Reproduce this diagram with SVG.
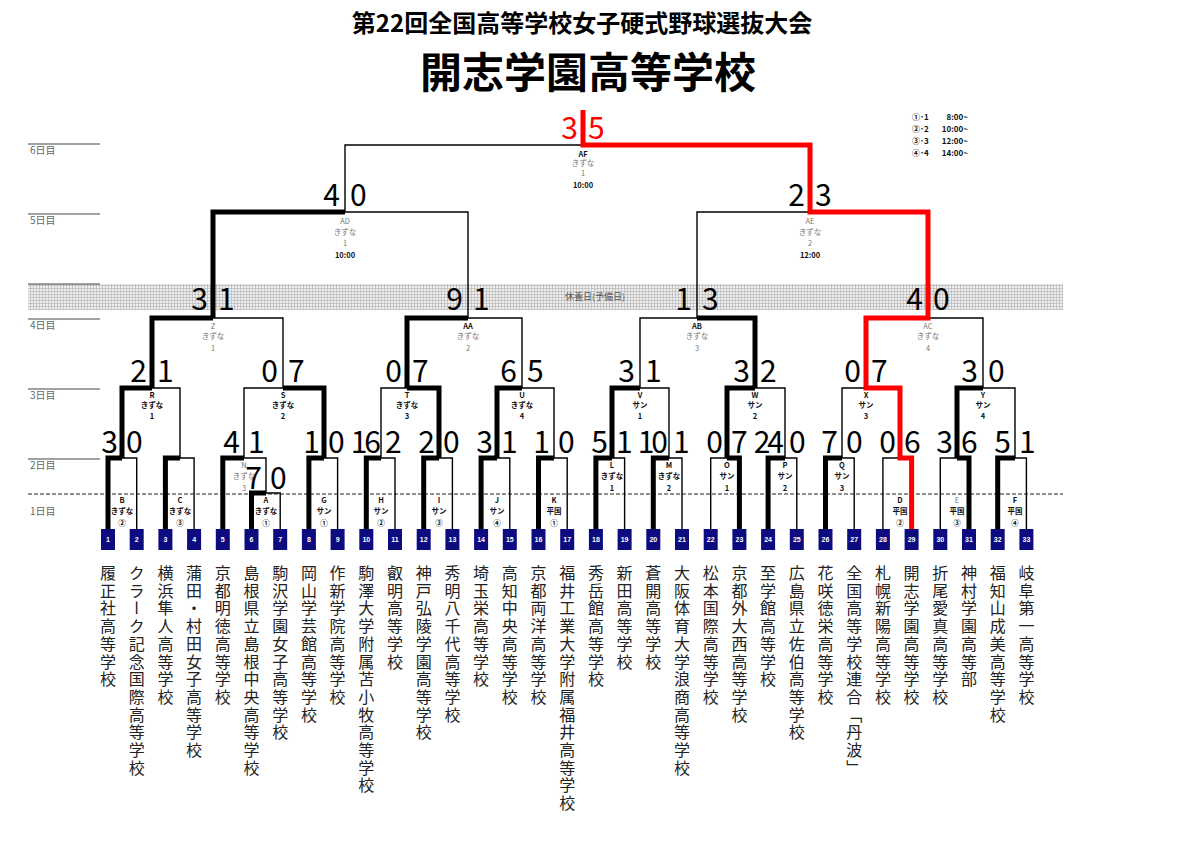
<svg xmlns="http://www.w3.org/2000/svg" width="1200" height="849" viewBox="0 0 1200 849">
<defs>
<pattern id="hatch" width="3" height="3" patternUnits="userSpaceOnUse">
<rect width="3" height="3" fill="#eeeeee"/>
<path d="M0,0.5 H3 M0.5,0 V3" stroke="#b8b8b8" stroke-width="0.7"/>
</pattern>
<style>
.jp{font-family:"Noto Sans CJK JP","Noto Sans CJK SC",sans-serif}
.thin{fill:none;stroke:#000;stroke-width:1.4}
.thick{fill:none;stroke:#000;stroke-width:5;stroke-linejoin:miter}
.red{fill:none;stroke:#ff0000;stroke-width:5;stroke-linejoin:miter}
.day{font-family:"Noto Sans CJK JP",sans-serif;font-size:10px;fill:#666}
.dayline{stroke:#444;stroke-width:1.2}
.sc{font-family:"Noto Sans CJK JP",sans-serif;font-size:30px;font-weight:400;fill:#000}
.scr{font-family:"Noto Sans CJK JP",sans-serif;font-size:30px;font-weight:400;fill:#ff0000}
.lb{font-family:"Noto Sans CJK JP",sans-serif;font-size:7.5px;font-weight:bold;fill:#111;text-anchor:middle}
.lg{font-family:"Noto Sans CJK JP",sans-serif;font-size:7.5px;fill:#777;text-anchor:middle}
.box{fill:#0c0c80}
.num{font-family:"Liberation Sans",sans-serif;font-size:7px;font-weight:bold;fill:#fff;text-anchor:middle}
.nm{font-family:"Noto Sans CJK JP",sans-serif;font-size:16px;fill:#222;writing-mode:vertical-rl;letter-spacing:1.7px}
.lgd{font-family:"Noto Sans CJK JP",sans-serif;font-size:8px;font-weight:bold;fill:#111}
</style>
</defs>
<rect width="1200" height="849" fill="#fff"/>

<g id="title">
<text x="582" y="32" class="jp" font-size="24" font-weight="bold" text-anchor="middle">第22回全国高等学校女子硬式野球選抜大会</text>
<text x="588" y="88" class="jp" font-size="42" font-weight="bold" text-anchor="middle">開志学園高等学校</text>
</g>

<g id="legend">
<text x="912" y="120" class="lgd">①･1</text><text x="968" y="120" class="lgd" text-anchor="end">8:00~</text>
<text x="912" y="132" class="lgd">②･2</text><text x="968" y="132" class="lgd" text-anchor="end">10:00~</text>
<text x="912" y="144" class="lgd">③･3</text><text x="968" y="144" class="lgd" text-anchor="end">12:00~</text>
<text x="912" y="156" class="lgd">④･4</text><text x="968" y="156" class="lgd" text-anchor="end">14:00~</text>
</g>

<g id="days">
<rect x="28" y="284" width="1035" height="26" fill="url(#hatch)"/>
<text x="595" y="300" class="jp" font-size="9" fill="#555" text-anchor="middle">休養日(予備日)</text>
<line x1="28" y1="144" x2="100" y2="144" class="dayline"/><text x="30" y="154" class="day">6日目</text>
<line x1="28" y1="214" x2="100" y2="214" class="dayline"/><text x="30" y="224" class="day">5日目</text>
<line x1="28" y1="284" x2="100" y2="284" class="dayline"/>
<line x1="28" y1="319" x2="100" y2="319" class="dayline"/><text x="30" y="329" class="day">4日目</text>
<line x1="28" y1="389" x2="100" y2="389" class="dayline"/><text x="30" y="399" class="day">3日目</text>
<line x1="28" y1="459" x2="100" y2="459" class="dayline"/><text x="30" y="469" class="day">2日目</text>
<line x1="28" y1="494" x2="1063" y2="494" stroke="#222" stroke-width="1.2" stroke-dasharray="4 2"/>
<text x="30" y="515" class="day">1日目</text>
</g>

<g id="connectors">
<path class="thin" d="M251.5,529 V493 H280.2 V529"/>
<path class="thin" d="M108,529 V458 H136.7 V529"/>
<path class="thin" d="M165.4,529 V458 H194.1 V529"/>
<path class="thin" d="M222.8,529 V458 H266 V493"/>
<path class="thin" d="M308.9,529 V458 H337.6 V529"/>
<path class="thin" d="M366.3,529 V458 H395 V529"/>
<path class="thin" d="M423.7,529 V458 H452.4 V529"/>
<path class="thin" d="M481.1,529 V458 H509.8 V529"/>
<path class="thin" d="M538.5,529 V458 H567.2 V529"/>
<path class="thin" d="M595.9,529 V458 H624.6 V529"/>
<path class="thin" d="M653.3,529 V458 H682 V529"/>
<path class="thin" d="M710.7,529 V458 H739.4 V529"/>
<path class="thin" d="M768.1,529 V458 H796.8 V529"/>
<path class="thin" d="M825.5,529 V458 H854.2 V529"/>
<path class="thin" d="M882.9,529 V458 H911.6 V529"/>
<path class="thin" d="M940.3,529 V458 H969 V529"/>
<path class="thin" d="M997.7,529 V458 H1026.4 V529"/>
<path class="thin" d="M122,458 V388 H180 V458"/>
<path class="thin" d="M244,458 V388 H324 V458"/>
<path class="thin" d="M381,458 V388 H439 V458"/>
<path class="thin" d="M497,458 V388 H554 V458"/>
<path class="thin" d="M612,458 V388 H669 V458"/>
<path class="thin" d="M727,458 V388 H785 V458"/>
<path class="thin" d="M842,458 V388 H900 V458"/>
<path class="thin" d="M957,458 V388 H1015 V458"/>
<path class="thin" d="M152,388 V318 H283 V388"/>
<path class="thin" d="M407,388 V318 H522 V388"/>
<path class="thin" d="M640,388 V318 H755 V388"/>
<path class="thin" d="M866,388 V318 H983 V388"/>
<path class="thin" d="M213,318 V212 H468 V318"/>
<path class="thin" d="M697,318 V212 H928 V318"/>
<path class="thin" d="M345,212 V145 H810 V212"/>

<path class="thick" d="M251.5,529 V493 H266"/>
<path class="thick" d="M108,529 V458 H122"/>
<path class="thick" d="M165.4,529 V458 H180"/>
<path class="thick" d="M222.8,529 V458 H244"/>
<path class="thick" d="M308.9,529 V458 H324"/>
<path class="thick" d="M366.3,529 V458 H381"/>
<path class="thick" d="M423.7,529 V458 H439"/>
<path class="thick" d="M481.1,529 V458 H497"/>
<path class="thick" d="M538.5,529 V458 H554"/>
<path class="thick" d="M595.9,529 V458 H612"/>
<path class="thick" d="M653.3,529 V458 H669"/>
<path class="thick" d="M739.4,529 V458 H727"/>
<path class="thick" d="M768.1,529 V458 H785"/>
<path class="thick" d="M825.5,529 V458 H842"/>
<path class="thick" d="M969,529 V458 H957"/>
<path class="thick" d="M997.7,529 V458 H1015"/>
<path class="thick" d="M122,458 V388 H152"/>
<path class="thick" d="M324,458 V388 H283"/>
<path class="thick" d="M439,458 V388 H407"/>
<path class="thick" d="M497,458 V388 H522"/>
<path class="thick" d="M612,458 V388 H640"/>
<path class="thick" d="M727,458 V388 H755"/>
<path class="thick" d="M957,458 V388 H983"/>
<path class="thick" d="M152,388 V318 H213"/>
<path class="thick" d="M407,388 V318 H468"/>
<path class="thick" d="M755,388 V318 H697"/>
<path class="thick" d="M213,318 V212 H345"/>
<path class="red" d="M911.6,529 V458 H900 V388 H866 V318 H928 V212 H810 V145 H583 V110"/>
</g>

<g id="match-AF"><text x="578" y="139" class="scr" text-anchor="end">3</text><text x="588" y="139" class="scr">5</text>
<text x="583" y="157" class="lb">AF</text><text x="583" y="166" class="lg">きずな</text><text x="583" y="176" class="lg">1</text><text x="583" y="188" class="lb">10:00</text></g>
<g id="match-AD"><text x="340" y="206" class="sc" text-anchor="end">4</text><text x="350" y="206" class="sc">0</text>
<text x="345" y="224" class="lg">AD</text><text x="345" y="235" class="lg">きずな</text><text x="345" y="246" class="lg">1</text><text x="345" y="258" class="lb">10:00</text></g>
<g id="match-AE"><text x="805" y="206" class="sc" text-anchor="end">2</text><text x="815" y="206" class="sc">3</text>
<text x="810" y="224" class="lg">AE</text><text x="810" y="235" class="lg">きずな</text><text x="810" y="246" class="lg">2</text><text x="810" y="258" class="lb">12:00</text></g>

<g id="match-Z"><text x="208" y="310" class="sc" text-anchor="end">3</text><text x="218" y="310" class="sc">1</text>
<text x="213" y="329" class="lg">Z</text><text x="213" y="339" class="lg">きずな</text><text x="213" y="351" class="lg">1</text></g>
<g id="match-AA"><text x="463" y="310" class="sc" text-anchor="end">9</text><text x="473" y="310" class="sc">1</text>
<text x="468" y="329" class="lb">AA</text><text x="468" y="339" class="lg">きずな</text><text x="468" y="351" class="lg">2</text></g>
<g id="match-AB"><text x="692" y="310" class="sc" text-anchor="end">1</text><text x="702" y="310" class="sc">3</text>
<text x="697" y="329" class="lb">AB</text><text x="697" y="339" class="lg">きずな</text><text x="697" y="351" class="lg">3</text></g>
<g id="match-AC"><text x="923" y="310" class="sc" text-anchor="end">4</text><text x="933" y="310" class="sc">0</text>
<text x="928" y="329" class="lg">AC</text><text x="928" y="339" class="lg">きずな</text><text x="928" y="351" class="lg">4</text></g>

<g id="match-R"><text x="147" y="382" class="sc" text-anchor="end">2</text><text x="157" y="382" class="sc">1</text>
<text x="152" y="398" class="lb">R</text><text x="152" y="408" class="lb">きずな</text><text x="152" y="419" class="lb">1</text></g>
<g id="match-S"><text x="278" y="382" class="sc" text-anchor="end">0</text><text x="288" y="382" class="sc">7</text>
<text x="283" y="398" class="lb">S</text><text x="283" y="408" class="lb">きずな</text><text x="283" y="419" class="lb">2</text></g>
<g id="match-T"><text x="402" y="382" class="sc" text-anchor="end">0</text><text x="412" y="382" class="sc">7</text>
<text x="407" y="398" class="lb">T</text><text x="407" y="408" class="lb">きずな</text><text x="407" y="419" class="lb">3</text></g>
<g id="match-U"><text x="517" y="382" class="sc" text-anchor="end">6</text><text x="527" y="382" class="sc">5</text>
<text x="522" y="398" class="lb">U</text><text x="522" y="408" class="lb">きずな</text><text x="522" y="419" class="lb">4</text></g>
<g id="match-V"><text x="635" y="382" class="sc" text-anchor="end">3</text><text x="645" y="382" class="sc">1</text>
<text x="640" y="398" class="lb">V</text><text x="640" y="408" class="lb">サン</text><text x="640" y="419" class="lb">1</text></g>
<g id="match-W"><text x="750" y="382" class="sc" text-anchor="end">3</text><text x="760" y="382" class="sc">2</text>
<text x="755" y="398" class="lb">W</text><text x="755" y="408" class="lb">サン</text><text x="755" y="419" class="lb">2</text></g>
<g id="match-X"><text x="861" y="382" class="sc" text-anchor="end">0</text><text x="871" y="382" class="sc">7</text>
<text x="866" y="398" class="lb">X</text><text x="866" y="408" class="lb">サン</text><text x="866" y="419" class="lb">3</text></g>
<g id="match-Y"><text x="978" y="382" class="sc" text-anchor="end">3</text><text x="988" y="382" class="sc">0</text>
<text x="983" y="398" class="lb">Y</text><text x="983" y="408" class="lb">サン</text><text x="983" y="419" class="lb">4</text></g>

<g id="match-B"><text x="118" y="453" class="sc" text-anchor="end">3</text><text x="126" y="453" class="sc">0</text>
<text x="122" y="503" class="lb">B</text><text x="122" y="514" class="lb">きずな</text><text x="122" y="526" class="lb">②</text></g>
<g id="match-C"><text x="180" y="503" class="lb">C</text><text x="180" y="514" class="lb">きずな</text><text x="180" y="526" class="lb">③</text></g>
<g id="match-N"><text x="240" y="453" class="sc" text-anchor="end">4</text><text x="248" y="453" class="sc">1</text>
<text x="244" y="468" class="lg">N</text><text x="244" y="479" class="lg">きずな</text><text x="244" y="491" class="lg">3</text></g>
<g id="match-A"><text x="262" y="489" class="sc" text-anchor="end">7</text><text x="270" y="489" class="sc">0</text>
<text x="266" y="503" class="lb">A</text><text x="266" y="514" class="lb">きずな</text><text x="266" y="526" class="lb">①</text></g>
<g id="match-G"><text x="320" y="453" class="sc" text-anchor="end">1</text><text x="328" y="453" class="sc">0</text>
<text x="324" y="503" class="lb">G</text><text x="324" y="514" class="lb">サン</text><text x="324" y="526" class="lb">①</text></g>
<g id="match-H"><text x="378" y="453" class="sc" text-anchor="end" letter-spacing="-3">16</text><text x="385" y="453" class="sc">2</text>
<text x="381" y="503" class="lb">H</text><text x="381" y="514" class="lb">サン</text><text x="381" y="526" class="lb">②</text></g>
<g id="match-I"><text x="435" y="453" class="sc" text-anchor="end">2</text><text x="443" y="453" class="sc">0</text>
<text x="439" y="503" class="lb">I</text><text x="439" y="514" class="lb">サン</text><text x="439" y="526" class="lb">③</text></g>
<g id="match-J"><text x="493" y="453" class="sc" text-anchor="end">3</text><text x="501" y="453" class="sc">1</text>
<text x="497" y="503" class="lb">J</text><text x="497" y="514" class="lb">サン</text><text x="497" y="526" class="lb">④</text></g>
<g id="match-K"><text x="550" y="453" class="sc" text-anchor="end">1</text><text x="558" y="453" class="sc">0</text>
<text x="554" y="503" class="lb">K</text><text x="554" y="514" class="lb">平国</text><text x="554" y="526" class="lb">①</text></g>
<g id="match-L"><text x="608" y="453" class="sc" text-anchor="end">5</text><text x="616" y="453" class="sc">1</text>
<text x="612" y="468" class="lb">L</text><text x="612" y="479" class="lb">きずな</text><text x="612" y="491" class="lb">1</text></g>
<g id="match-M"><text x="665" y="453" class="sc" text-anchor="end" letter-spacing="-3">10</text><text x="673" y="453" class="sc">1</text>
<text x="669" y="468" class="lb">M</text><text x="669" y="479" class="lb">きずな</text><text x="669" y="491" class="lb">2</text></g>
<g id="match-O"><text x="723" y="453" class="sc" text-anchor="end">0</text><text x="731" y="453" class="sc">7</text>
<text x="727" y="468" class="lb">O</text><text x="727" y="479" class="lb">サン</text><text x="727" y="491" class="lb">1</text></g>
<g id="match-P"><text x="781" y="453" class="sc" text-anchor="end" letter-spacing="-3">24</text><text x="789" y="453" class="sc">0</text>
<text x="785" y="468" class="lb">P</text><text x="785" y="479" class="lb">サン</text><text x="785" y="491" class="lb">2</text></g>
<g id="match-Q"><text x="838" y="453" class="sc" text-anchor="end">7</text><text x="846" y="453" class="sc">0</text>
<text x="842" y="468" class="lb">Q</text><text x="842" y="479" class="lb">サン</text><text x="842" y="491" class="lb">3</text></g>
<g id="match-D"><text x="896" y="453" class="sc" text-anchor="end">0</text><text x="904" y="453" class="sc">6</text>
<text x="900" y="503" class="lb">D</text><text x="900" y="514" class="lb">平国</text><text x="900" y="526" class="lb">②</text></g>
<g id="match-E"><text x="953" y="453" class="sc" text-anchor="end">3</text><text x="961" y="453" class="sc">6</text>
<text x="957" y="503" class="lg">E</text><text x="957" y="514" class="lb">平国</text><text x="957" y="526" class="lb">③</text></g>
<g id="match-F"><text x="1011" y="453" class="sc" text-anchor="end">5</text><text x="1019" y="453" class="sc">1</text>
<text x="1015" y="503" class="lb">F</text><text x="1015" y="514" class="lb">平国</text><text x="1015" y="526" class="lb">④</text></g>

<g id="team-1"><rect x="101" y="529" width="14" height="21" class="box"/><text x="108" y="542" class="num">1</text><text x="108" y="565" class="nm">履正社高等学校</text></g>
<g id="team-2"><rect x="129.7" y="529" width="14" height="21" class="box"/><text x="136.7" y="542" class="num">2</text><text x="136.7" y="565" class="nm">クラーク記念国際高等学校</text></g>
<g id="team-3"><rect x="158.4" y="529" width="14" height="21" class="box"/><text x="165.4" y="542" class="num">3</text><text x="165.4" y="565" class="nm">横浜隼人高等学校</text></g>
<g id="team-4"><rect x="187.1" y="529" width="14" height="21" class="box"/><text x="194.1" y="542" class="num">4</text><text x="194.1" y="565" class="nm">蒲田・村田女子高等学校</text></g>
<g id="team-5"><rect x="215.8" y="529" width="14" height="21" class="box"/><text x="222.8" y="542" class="num">5</text><text x="222.8" y="565" class="nm">京都明徳高等学校</text></g>
<g id="team-6"><rect x="244.5" y="529" width="14" height="21" class="box"/><text x="251.5" y="542" class="num">6</text><text x="251.5" y="565" class="nm">島根県立島根中央高等学校</text></g>
<g id="team-7"><rect x="273.2" y="529" width="14" height="21" class="box"/><text x="280.2" y="542" class="num">7</text><text x="280.2" y="565" class="nm">駒沢学園女子高等学校</text></g>
<g id="team-8"><rect x="301.9" y="529" width="14" height="21" class="box"/><text x="308.9" y="542" class="num">8</text><text x="308.9" y="565" class="nm">岡山学芸館高等学校</text></g>
<g id="team-9"><rect x="330.6" y="529" width="14" height="21" class="box"/><text x="337.6" y="542" class="num">9</text><text x="337.6" y="565" class="nm">作新学院高等学校</text></g>
<g id="team-10"><rect x="359.3" y="529" width="14" height="21" class="box"/><text x="366.3" y="542" class="num">10</text><text x="366.3" y="565" class="nm">駒澤大学附属苫小牧高等学校</text></g>
<g id="team-11"><rect x="388" y="529" width="14" height="21" class="box"/><text x="395" y="542" class="num">11</text><text x="395" y="565" class="nm">叡明高等学校</text></g>
<g id="team-12"><rect x="416.7" y="529" width="14" height="21" class="box"/><text x="423.7" y="542" class="num">12</text><text x="423.7" y="565" class="nm">神戸弘陵学園高等学校</text></g>
<g id="team-13"><rect x="445.4" y="529" width="14" height="21" class="box"/><text x="452.4" y="542" class="num">13</text><text x="452.4" y="565" class="nm">秀明八千代高等学校</text></g>
<g id="team-14"><rect x="474.1" y="529" width="14" height="21" class="box"/><text x="481.1" y="542" class="num">14</text><text x="481.1" y="565" class="nm">埼玉栄高等学校</text></g>
<g id="team-15"><rect x="502.8" y="529" width="14" height="21" class="box"/><text x="509.8" y="542" class="num">15</text><text x="509.8" y="565" class="nm">高知中央高等学校</text></g>
<g id="team-16"><rect x="531.5" y="529" width="14" height="21" class="box"/><text x="538.5" y="542" class="num">16</text><text x="538.5" y="565" class="nm">京都両洋高等学校</text></g>
<g id="team-17"><rect x="560.2" y="529" width="14" height="21" class="box"/><text x="567.2" y="542" class="num">17</text><text x="567.2" y="565" class="nm">福井工業大学附属福井高等学校</text></g>
<g id="team-18"><rect x="588.9" y="529" width="14" height="21" class="box"/><text x="595.9" y="542" class="num">18</text><text x="595.9" y="565" class="nm">秀岳館高等学校</text></g>
<g id="team-19"><rect x="617.6" y="529" width="14" height="21" class="box"/><text x="624.6" y="542" class="num">19</text><text x="624.6" y="565" class="nm">新田高等学校</text></g>
<g id="team-20"><rect x="646.3" y="529" width="14" height="21" class="box"/><text x="653.3" y="542" class="num">20</text><text x="653.3" y="565" class="nm">蒼開高等学校</text></g>
<g id="team-21"><rect x="675" y="529" width="14" height="21" class="box"/><text x="682" y="542" class="num">21</text><text x="682" y="565" class="nm">大阪体育大学浪商高等学校</text></g>
<g id="team-22"><rect x="703.7" y="529" width="14" height="21" class="box"/><text x="710.7" y="542" class="num">22</text><text x="710.7" y="565" class="nm">松本国際高等学校</text></g>
<g id="team-23"><rect x="732.4" y="529" width="14" height="21" class="box"/><text x="739.4" y="542" class="num">23</text><text x="739.4" y="565" class="nm">京都外大西高等学校</text></g>
<g id="team-24"><rect x="761.1" y="529" width="14" height="21" class="box"/><text x="768.1" y="542" class="num">24</text><text x="768.1" y="565" class="nm">至学館高等学校</text></g>
<g id="team-25"><rect x="789.8" y="529" width="14" height="21" class="box"/><text x="796.8" y="542" class="num">25</text><text x="796.8" y="565" class="nm">広島県立佐伯高等学校</text></g>
<g id="team-26"><rect x="818.5" y="529" width="14" height="21" class="box"/><text x="825.5" y="542" class="num">26</text><text x="825.5" y="565" class="nm">花咲徳栄高等学校</text></g>
<g id="team-27"><rect x="847.2" y="529" width="14" height="21" class="box"/><text x="854.2" y="542" class="num">27</text><text x="854.2" y="565" class="nm">全国高等学校連合「丹波」</text></g>
<g id="team-28"><rect x="875.9" y="529" width="14" height="21" class="box"/><text x="882.9" y="542" class="num">28</text><text x="882.9" y="565" class="nm">札幌新陽高等学校</text></g>
<g id="team-29"><rect x="904.6" y="529" width="14" height="21" class="box"/><text x="911.6" y="542" class="num">29</text><text x="911.6" y="565" class="nm">開志学園高等学校</text></g>
<g id="team-30"><rect x="933.3" y="529" width="14" height="21" class="box"/><text x="940.3" y="542" class="num">30</text><text x="940.3" y="565" class="nm">折尾愛真高等学校</text></g>
<g id="team-31"><rect x="962" y="529" width="14" height="21" class="box"/><text x="969" y="542" class="num">31</text><text x="969" y="565" class="nm">神村学園高等部</text></g>
<g id="team-32"><rect x="990.7" y="529" width="14" height="21" class="box"/><text x="997.7" y="542" class="num">32</text><text x="997.7" y="565" class="nm">福知山成美高等学校</text></g>
<g id="team-33"><rect x="1019.4" y="529" width="14" height="21" class="box"/><text x="1026.4" y="542" class="num">33</text><text x="1026.4" y="565" class="nm">岐阜第一高等学校</text></g>
</svg>
